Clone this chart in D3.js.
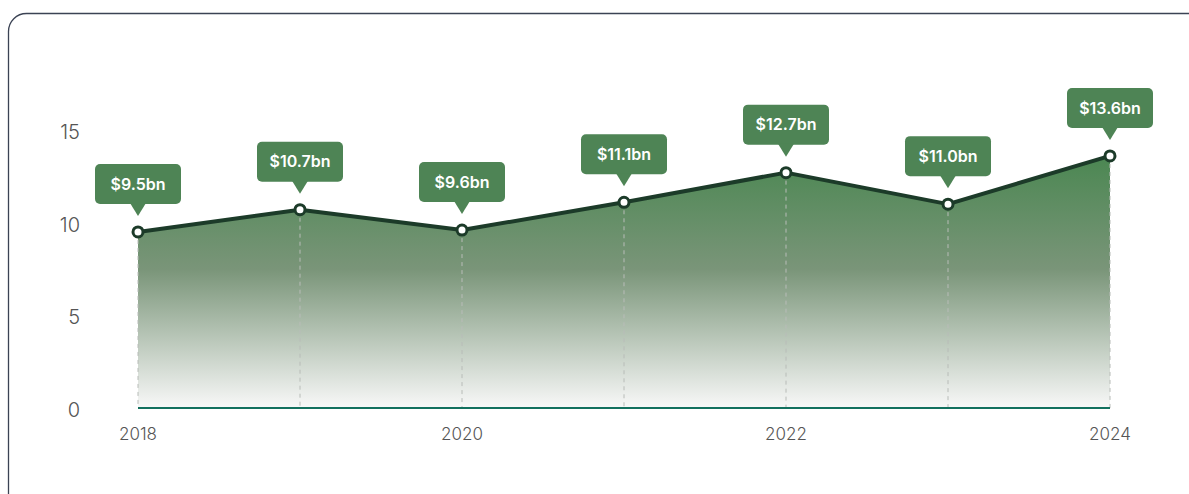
<!DOCTYPE html>
<html>
<head>
<meta charset="utf-8">
<script src="https://cdn.jsdelivr.net/npm/d3@7"></script>
<style>
  html, body { margin: 0; padding: 0; background: #fff; }
  svg { display: block; }
</style>
</head>
<body>
<svg id="chart"></svg>
<script>
const years = [2018, 2019, 2020, 2021, 2022, 2023, 2024];
const revenue = [9.5, 10.7, 9.6, 11.1, 12.7, 11.0, 13.6];
const yTicks = [0, 5, 10, 15];
const xTicks = [2018, 2020, 2022, 2024];

const width = 1189;
const height = 494;

const svg = d3.select("#chart")
  .attr("width", width)
  .attr("height", height);

// card outline, runs off the right and bottom edges
svg.append("rect")
  .attr("x", 8.5)
  .attr("y", 13.5)
  .attr("width", width + 40)
  .attr("height", height + 40)
  .attr("rx", 18)
  .attr("fill", "#fff")
  .attr("stroke", "#3b4354")
  .attr("stroke-width", 1.3);

const x = d3.scaleLinear().domain([2018, 2024]).range([138, 1110]);
const y = d3.scaleLinear().domain([0, 15]).range([408, 130]);

const data = years.map((yr, i) => ({ year: yr, value: revenue[i] }));

const defs = svg.append("defs");
const grad = defs.append("linearGradient")
  .attr("id", "areaFill")
  .attr("x1", 0).attr("y1", 0).attr("x2", 0).attr("y2", 1);
grad.append("stop").attr("offset", "0%").attr("stop-color", "#4b8752");
grad.append("stop").attr("offset", "45%").attr("stop-color", "#7a9579");
grad.append("stop").attr("offset", "100%").attr("stop-color", "#f8f8f8");

// y axis labels
svg.append("g")
  .selectAll("text")
  .data(yTicks)
  .enter().append("text")
  .attr("x", 80)
  .attr("y", d => y(d) + 2)
  .attr("dy", "0.35em")
  .attr("text-anchor", "end")
  .attr("font-family", "Inter, sans-serif")
  .attr("font-size", "20px")
  .attr("font-weight", 300)
  .attr("fill", "#555")
  .text(d => d);

// x axis labels
svg.append("g")
  .selectAll("text")
  .data(xTicks)
  .enter().append("text")
  .attr("x", d => x(d))
  .attr("y", 434)
  .attr("dy", "0.35em")
  .attr("text-anchor", "middle")
  .attr("font-family", "Inter, sans-serif")
  .attr("font-size", "17px")
  .attr("font-weight", 300)
  .attr("fill", "#555")
  .text(d => d);

const area = d3.area()
  .x(d => x(d.year))
  .y0(y(0))
  .y1(d => y(d.value));

svg.append("path")
  .datum(data)
  .attr("d", area)
  .attr("fill", "url(#areaFill)");

// dashed drop lines
svg.append("g")
  .selectAll("line")
  .data(data)
  .enter().append("line")
  .attr("x1", d => x(d.year))
  .attr("x2", d => x(d.year))
  .attr("y1", d => y(d.value))
  .attr("y2", y(0))
  .attr("stroke", "#b8bcb8")
  .attr("stroke-width", 1)
  .attr("stroke-dasharray", "4,4");

// baseline
svg.append("line")
  .attr("x1", x(2018))
  .attr("x2", x(2024))
  .attr("y1", y(0))
  .attr("y2", y(0))
  .attr("stroke", "#12705e")
  .attr("stroke-width", 2);

const line = d3.line()
  .x(d => x(d.year))
  .y(d => y(d.value));

svg.append("path")
  .datum(data)
  .attr("d", line)
  .attr("fill", "none")
  .attr("stroke", "#1c3b29")
  .attr("stroke-width", 4)
  .attr("stroke-linejoin", "round");

svg.append("g")
  .selectAll("circle")
  .data(data)
  .enter().append("circle")
  .attr("cx", d => x(d.year))
  .attr("cy", d => y(d.value))
  .attr("r", 5)
  .attr("fill", "#fff")
  .attr("stroke", "#1c3b29")
  .attr("stroke-width", 3);

// callout labels
const boxW = 86, boxH = 40;
const callout = svg.append("g")
  .selectAll("g")
  .data(data)
  .enter().append("g")
  .attr("transform", d => `translate(${x(d.year)},${y(d.value) - 28})`);

callout.append("rect")
  .attr("x", -boxW / 2)
  .attr("y", -boxH)
  .attr("width", boxW)
  .attr("height", boxH)
  .attr("rx", 5)
  .attr("fill", "#4e8455");

callout.append("path")
  .attr("d", "M-8,-1 L8,-1 L0,12 Z")
  .attr("fill", "#4e8455");

callout.append("text")
  .attr("x", 0)
  .attr("y", -boxH / 2)
  .attr("dy", "0.35em")
  .attr("text-anchor", "middle")
  .attr("font-family", "Inter, sans-serif")
  .attr("font-weight", 600)
  .attr("font-size", "16px")
  .attr("fill", "#fff")
  .text(d => `$${d.value.toFixed(1)}bn`);
</script>
</body>
</html>
